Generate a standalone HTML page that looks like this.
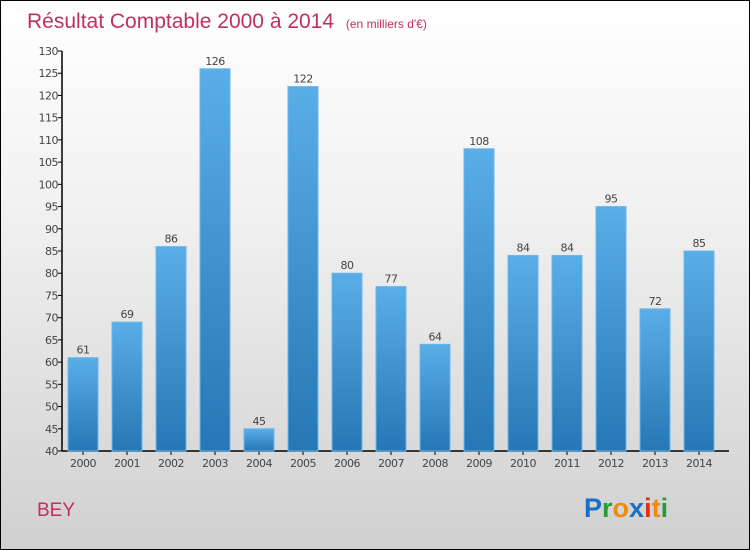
<!DOCTYPE html>
<html><head><meta charset="utf-8"><style>
body{margin:0}
#c{width:750px;height:550px;position:relative;box-sizing:border-box;border:1px solid #000;background:linear-gradient(#fff 0%,#f0f0f0 40%,#d0d0d0 100%);font-family:"DejaVu Sans","Liberation Sans",sans-serif;overflow:hidden}
</style></head><body>
<div id="c">
<svg width="750" height="550" style="position:absolute;left:0;top:0" id="s">
<defs><linearGradient id="g" x1="0" y1="0" x2="0" y2="1"><stop offset="0" stop-color="#5aaee8"/><stop offset="1" stop-color="#2677b5"/></linearGradient></defs>
<text x="26" y="27" font-size="21" fill="#c0305f" font-family="Liberation Sans,sans-serif">Résultat Comptable 2000 à 2014 <tspan font-size="12" dx="6">(en milliers d'€)</tspan></text>
<text x="36" y="515" font-size="19" fill="#c0305f" font-family="Liberation Sans,sans-serif">BEY</text>
<g font-size="27" font-family="Liberation Sans,sans-serif" font-weight="bold">
<text x="583" y="516"><tspan fill="#1a6fc4">P</tspan><tspan fill="#2a9a3a">r</tspan><tspan fill="#f08a10">o</tspan><tspan fill="#1a6fc4">x</tspan><tspan fill="#e03010">i</tspan><tspan fill="#f08a10">t</tspan><tspan fill="#2a9a3a">i</tspan></text></g>
<g id="ax"></g><g id="bars"></g>
</svg></div>
<script>
const years=["2000","2001","2002","2003","2004","2005","2006","2007","2008","2009","2010","2011","2012","2013","2014"];
const values=[61,69,86,126,45,122,80,77,64,108,84,84,95,72,85];
const yTicks=[40,45,50,55,60,65,70,75,80,85,90,95,100,105,110,115,120,125,130];
const NS="http://www.w3.org/2000/svg";
const y=v=>450-(v-40)*(400/90);
const x=i=>82+i*44;
function mk(t,a,p){const e=document.createElementNS(NS,t);for(const k in a)e.setAttribute(k,a[k]);p.appendChild(e);return e;}
const ax=document.getElementById('ax'),bars=document.getElementById('bars');
const yl=mk('line',{x1:61,y1:50,x2:61,y2:450,stroke:'#000','stroke-width':1.5},ax);


const xl=mk('line',{x1:61,y1:450,x2:728,y2:450,stroke:'#000','stroke-width':1.5},ax);


yTicks.forEach(v=>{
 mk('line',{x1:57,y1:y(v),x2:61,y2:y(v),stroke:'#000'},ax);
 const t=mk('text',{x:57,y:y(v)+4,'text-anchor':'end','font-size':11,fill:'#444','letter-spacing':'-0.5'},ax);
 t.textContent=v;
 
 
});
values.forEach((v,i)=>{
 const r=mk('rect',{x:x(i)-15,y:y(v),width:30,height:450-y(v),fill:'url(#g)',stroke:'#6bb8ec','stroke-width':1},bars);
 
 
 const t=mk('text',{x:x(i),y:y(v)-4,'text-anchor':'middle','font-size':11,fill:'#444','letter-spacing':'-0.5'},bars);
 t.textContent=v;
 
 
 mk('line',{x1:x(i),y1:450,x2:x(i),y2:454,stroke:'#000'},ax);
 const xt=mk('text',{x:x(i),y:466,'text-anchor':'middle','font-size':11,fill:'#444','letter-spacing':'-0.5'},ax);
 xt.textContent=years[i];
 
 
});
</script>
</body></html>
